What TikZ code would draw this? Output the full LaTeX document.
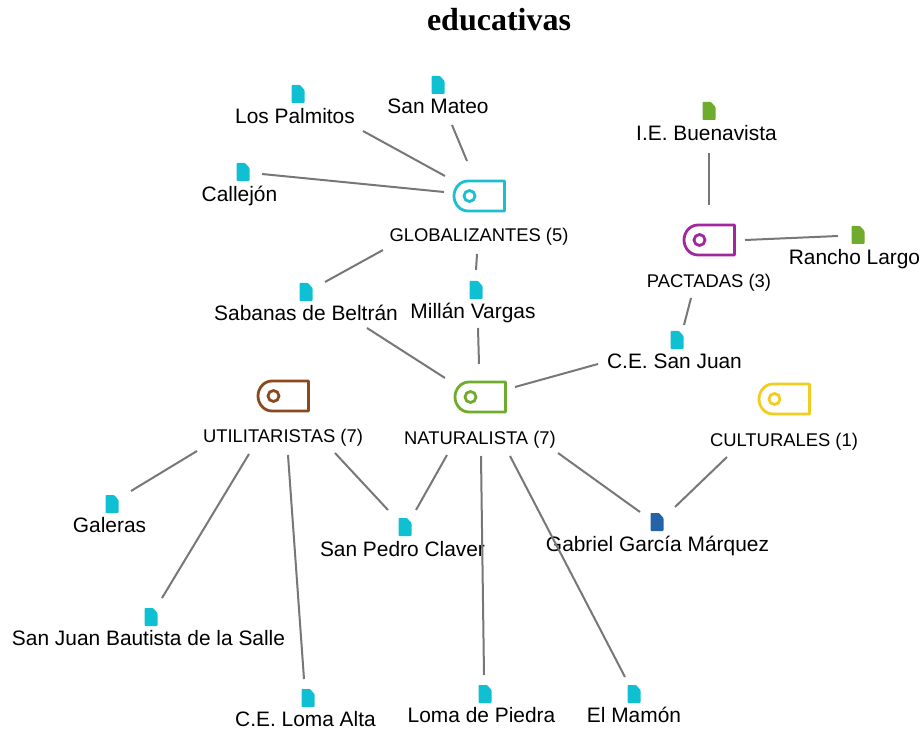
\documentclass[tikz,border=0pt]{standalone}
\usepackage{fontspec}
\setmainfont{Liberation Sans}
\newfontfamily\titlefont{Liberation Serif}
\definecolor{cyanT}{HTML}{1CBFCF}
\definecolor{cyanD}{HTML}{0FC0D2}
\definecolor{purpleT}{HTML}{A0289C}
\definecolor{greenT}{HTML}{6FAB2C}
\definecolor{brownT}{HTML}{8B4A1E}
\definecolor{yellowT}{HTML}{F2CC1E}
\definecolor{blueD}{HTML}{2563A8}
\definecolor{linkgray}{HTML}{777777}
\newcommand{\tagicon}[6]{% name, x, y, colour, label, label y
  \node[anchor=center,inner sep=0pt,minimum width=51pt,minimum height=30pt] (#1) at (#2,#3) {};
  \draw[tagline,draw=#4] ([shift={(25.5,-15)}]#1.center) -- ([shift={(-11,-15)}]#1.center)
    .. controls ([shift={(-19,-15)}]#1.center) and ([shift={(-25,-8)}]#1.center) .. ([shift={(-25,0)}]#1.center)
    .. controls ([shift={(-25,8)}]#1.center) and ([shift={(-19,15)}]#1.center) .. ([shift={(-11,15)}]#1.center)
    -- ([shift={(25.5,15)}]#1.center) -- cycle;
  \draw[tagline,draw=#4] ([shift={(-9.5,0)}]#1.center) circle (5.5);
  \node[smalllabel] (#1l) at (#2,#6) {#5};
}
\newcommand{\docicon}[7]{% name, x, y, colour, label, label x, label y
  \node[anchor=center,inner sep=0pt,minimum width=13pt,minimum height=18pt] (#1) at (#2,#3) {};
  \fill[#4,rounded corners=0.8pt] ([shift={(-6.5,-9)}]#1.center) -- ([shift={(2,-9)}]#1.center) -- ([shift={(6.5,-4)}]#1.center) -- ([shift={(6.5,9)}]#1.center) -- ([shift={(-6.5,9)}]#1.center) -- cycle;
  \node[biglabel] (#1l) at (#6,#7) {#5};
}
\newcommand{\lnk}[4]{\draw[linkstyle] ([shift={(#2)}]#1.center) -- ([shift={(#4)}]#3.center);}
\tikzset{
  tagline/.style={line width=2.8pt,fill=none,line join=round},
  smalllabel/.style={inner sep=0pt,text=black,text height=13.4pt,text depth=0pt,font=\fontsize{18.4}{22}\selectfont},
  biglabel/.style={inner sep=0pt,text=black,text height=15pt,text depth=0pt,font=\fontsize{20.9}{25}\selectfont},
  linkstyle/.style={draw=linkgray,line width=2pt},
  titlestyle/.style={inner sep=0pt,text=black,font=\titlefont\bfseries\fontsize{32}{36}\selectfont}
}
\begin{document}
\begin{tikzpicture}[x=1pt,y=-1pt]
\useasboundingbox (0,0) rectangle (922,730);
\node[titlestyle] (title) at (499,20) {educativas};
\tagicon{tG}{479}{196}{cyanT}{GLOBALIZANTES (5)}{235}
\tagicon{tP}{709}{240}{purpleT}{PACTADAS (3)}{281}
\tagicon{tN}{480}{397}{greenT}{NATURALISTA (7)}{438}
\tagicon{tU}{283}{396}{brownT}{UTILITARISTAS (7)}{436}
\tagicon{tC}{784}{399}{yellowT}{CULTURALES (1)}{440}
\docicon{dPalm}{298}{94}{cyanD}{Los Palmitos}{295}{116}
\docicon{dMat}{438}{85}{cyanD}{San Mateo}{438}{106}
\docicon{dCal}{243}{172}{cyanD}{Callejón}{239.5}{194}
\docicon{dBue}{709}{111}{greenT}{I.E. Buenavista}{706.5}{133}
\docicon{dRan}{858}{235}{greenT}{Rancho Largo}{854.5}{257}
\docicon{dSab}{306}{292}{cyanD}{Sabanas de Beltrán}{306}{313}
\docicon{dMil}{476}{290}{cyanD}{Millán Vargas}{473}{311}
\docicon{dJua}{677}{340}{cyanD}{C.E. San Juan}{674.5}{361}
\docicon{dGal}{112}{504}{cyanD}{Galeras}{109.5}{525}
\docicon{dPed}{405}{527}{cyanD}{San Pedro Claver}{402.5}{549}
\docicon{dGGM}{657}{522}{blueD}{Gabriel García Márquez}{657.5}{544}
\docicon{dSJB}{151}{617}{cyanD}{San Juan Bautista de la Salle}{148.5}{638}
\docicon{dLA}{308}{698}{cyanD}{C.E. Loma Alta}{305.5}{719}
\docicon{dLP}{485}{694}{cyanD}{Loma de Piedra}{481.5}{715}
\docicon{dEM}{634}{694}{cyanD}{El Mamón}{634}{715}
\lnk{dPalm}{65,37}{tG}{-34,-20}
\lnk{dMat}{14,40}{tG}{-12,-35}
\lnk{dCal}{19,2}{tG}{-35,-4}
\lnk{dBue}{0,42}{tP}{0,-35}
\lnk{dRan}{-20,1}{tP}{36,0}
\lnk{dSab}{19,-10}{tG}{-96,54}
\lnk{dMil}{0,-20}{tG}{-2,58}
\lnk{dMil}{2,38}{tN}{-1,-33}
\lnk{dSab}{61,36}{tN}{-35,-19}
\lnk{dJua}{-79,24}{tN}{35,-10}
\lnk{tP}{-18,58}{dJua}{7,-15}
\lnk{tU}{-86,55}{dGal}{19,-13}
\lnk{tU}{-34,58}{dSJB}{11,-19}
\lnk{tU}{5,59}{dLA}{-4,-19}
\lnk{tU}{52,57}{dPed}{-17,-17}
\lnk{tN}{-33,58}{dPed}{11,-17}
\lnk{tN}{1,59}{dLP}{-1,-19}
\lnk{tN}{30,59}{dEM}{-9,-17}
\lnk{tN}{78,56}{dGGM}{-17,-10}
\lnk{tC}{-57,58}{dGGM}{18,-15}
\end{tikzpicture}
\end{document}
